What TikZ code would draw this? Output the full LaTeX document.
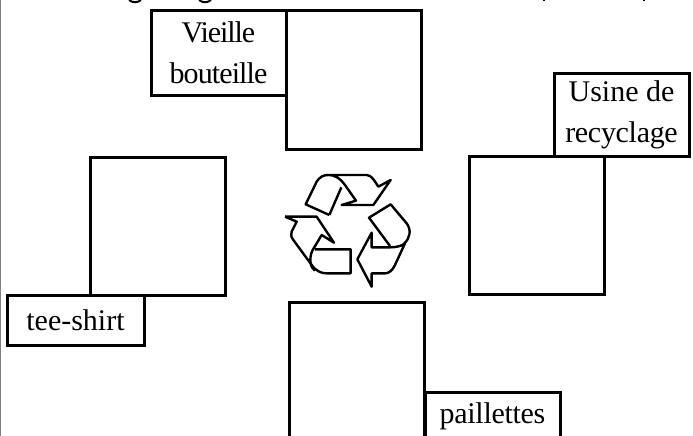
\documentclass[tikz,border=0pt]{standalone}
\usepackage{fontspec}
\setmainfont{Liberation Serif}
\usetikzlibrary{positioning}
\tikzset{
    squarebox/.style={draw, line width=3pt, minimum width=135.5pt, minimum height=138pt, anchor=north west, outer sep=0pt},
    labelbox/.style={draw, line width=3pt, align=center, inner sep=0pt, outer sep=0pt, font=\fontsize{30}{41}\selectfont},
    symbolline/.style={draw, line width=2.4pt, line join=round}
}

\begin{document}
\begin{tikzpicture}[x=1pt, y=-1pt]
    \useasboundingbox (0,0) rectangle (693,436);
    \clip (0,0) rectangle (693,436);
    % page edge and cut off title
    \draw[gray, line width=1.2pt] (0.5,0) -- (0.5,436);
    \draw[line width=2pt] (129,0) .. controls (133,3) and (137,3) .. (141,0);
    \draw[line width=2pt] (199,0) .. controls (203,3) and (207,3) .. (211,0);
    \draw[line width=2pt] (544,0) -- (544,1.5);
    \draw[line width=2pt] (644,0) -- (644,1.5);

    % boxes
    \node[squarebox] (bottle) at (286,11) {};
    \node[squarebox] (factory) at (469,156) {};
    \node[squarebox] (shirt) at (90,157) {};
    \node[squarebox, minimum height=160pt] (glitter) at (289,302) {};

    \node[labelbox, minimum width=135pt, minimum height=84pt, anchor=north east] (bottlelabel) at (bottle.north west) {\addfontfeature{LetterSpace=-3.5}Vieille\\\addfontfeature{LetterSpace=-3}bouteille};
    \node[labelbox, minimum width=135pt, minimum height=83pt, anchor=south west] (factorylabel) at (554,156) {Usine de\\\addfontfeature{LetterSpace=-1}recyclage};
    \node[labelbox, minimum width=137pt, minimum height=50pt, anchor=north west] (shirtlabel) at (7,295) {tee-shirt};
    \node[labelbox, minimum width=135pt, minimum height=48pt, anchor=north west] (glitterlabel) at (425,392) {\addfontfeature{LetterSpace=-1}paillettes};

    % recycling symbol
    \begin{scope}[shift={(270,160)}, x=0.3333pt, y=-0.3333pt]
        \draw[symbolline] (178,165) -- (107,133) -- (140,65) .. controls (150,50) and (160,45) .. (175,45)
            .. controls (198,45) and (213,58) .. (225,75) -- (258,122) -- (215,135) -- (310,135) -- (362,60)
            -- (325,80) .. controls (315,65) and (305,45) .. (290,45) -- (175,45);
        \draw[symbolline] (178,165) -- (214,82);
        \draw[symbolline] (360,258) -- (297,173) -- (362,133) -- (410,190) .. controls (425,210) and (420,235) .. (403,250);
        \draw[symbolline] (305,218) -- (305,262) -- (360,262) .. controls (380,262) and (395,258) .. (405,250)
            -- (375,315) .. controls (365,335) and (355,340) .. (345,340) -- (305,340) -- (305,380) -- (262,298) -- cycle;
        \draw[symbolline] (45,170) -- (140,170) -- (192,248) -- (155,225) -- (128,270)
            .. controls (115,295) and (122,325) .. (135,332);
        \draw[symbolline] (45,170) -- (80,185) -- (65,215) .. controls (62,228) and (65,235) .. (70,240)
            -- (125,315) .. controls (140,335) and (155,340) .. (170,340) -- (242,340) -- (242,268) -- (135,268);
    \end{scope}
\end{tikzpicture}
\end{document}
